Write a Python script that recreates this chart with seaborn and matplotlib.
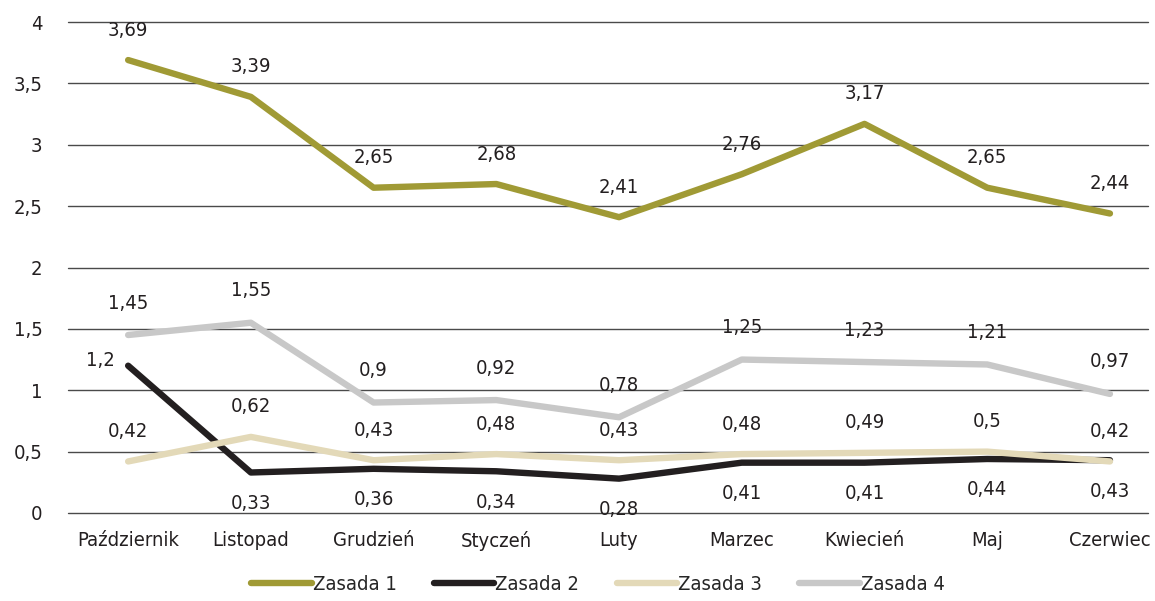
import matplotlib
matplotlib.use("Agg")
import matplotlib.pyplot as plt
import seaborn as sns
import pandas as pd
from matplotlib.ticker import FuncFormatter, MultipleLocator

months = ["Październik", "Listopad", "Grudzień", "Styczeń", "Luty", "Marzec", "Kwiecień", "Maj", "Czerwiec"]
series_names = ["Zasada 1", "Zasada 2", "Zasada 3", "Zasada 4"]
zasada1 = [3.69, 3.39, 2.65, 2.68, 2.41, 2.76, 3.17, 2.65, 2.44]
zasada2 = [1.2, 0.33, 0.36, 0.34, 0.28, 0.41, 0.41, 0.44, 0.43]
zasada3 = [0.42, 0.62, 0.43, 0.48, 0.43, 0.48, 0.49, 0.5, 0.42]
zasada4 = [1.45, 1.55, 0.9, 0.92, 0.78, 1.25, 1.23, 1.21, 0.97]
colors = ["#A09A35", "#231F20", "#E3D9B8", "#C8C8C8"]

sns.set_style("white")
plt.rcParams['font.family'] = ['DejaVu Sans']
plt.rcParams['font.stretch'] = 'condensed'

all_vals = [zasada1, zasada2, zasada3, zasada4]
rows = []
for name, vals in zip(series_names, all_vals):
    for i, (m, v) in enumerate(zip(months, vals)):
        rows.append({"idx": i, "month": m, "value": v, "series": name})
df = pd.DataFrame(rows)

fig = plt.figure(figsize=(11.55, 6.01), dpi=100)
ax = fig.add_axes([68/1155, 1-513/601, (1148-68)/1155, (513-22)/601])

sns.lineplot(data=df, x="idx", y="value", hue="series", hue_order=series_names,
             palette=colors, linewidth=4.6, ax=ax, legend=True,
             solid_capstyle="round", solid_joinstyle="round")
for ln, z in zip(ax.lines[:4], [4, 3, 5, 2]):
    ln.set_zorder(z)

fs = 14.5
ax.set_xlim(-0.49, 8.31)
ax.set_ylim(0, 4)
ax.yaxis.set_major_locator(MultipleLocator(0.5))
ax.yaxis.set_major_formatter(FuncFormatter(lambda v, p: ("%g" % v).replace(".", ",")))
ax.set_xticks(range(len(months)))
ax.set_xticklabels(months)
ax.tick_params(axis="both", length=0, labelsize=fs, colors="#231F20")
ax.tick_params(axis="y", pad=18.5)
ax.tick_params(axis="x", pad=13)
ax.grid(axis="y", color="#4a4a4a", linewidth=1.0)
ax.grid(axis="x", visible=False)
for gl in ax.get_ygridlines():
    gl.set_clip_on(False)
ax.set_axisbelow(True)
for s in ax.spines.values():
    s.set_visible(False)
ax.set_xlabel("")
ax.set_ylabel("")

def fmt(v):
    return ("%g" % v).replace(".", ",")

for i, v in enumerate(zasada1):
    ax.annotate(fmt(v), (i, v), xytext=(0, 30), textcoords="offset pixels", ha="center", va="center", fontsize=fs, color="#231F20")
for i, v in enumerate(zasada4):
    ax.annotate(fmt(v), (i, v), xytext=(0, 32), textcoords="offset pixels", ha="center", va="center", fontsize=fs, color="#231F20")
for i, v in enumerate(zasada3):
    ax.annotate(fmt(v), (i, v), xytext=(0, 30), textcoords="offset pixels", ha="center", va="center", fontsize=fs, color="#231F20")
for i, v in enumerate(zasada2):
    if i == 0:
        ax.annotate(fmt(v), (i, v), xytext=(-28, 5), textcoords="offset pixels", ha="center", va="center", fontsize=fs, color="#231F20")
    else:
        ax.annotate(fmt(v), (i, v), xytext=(0, -31), textcoords="offset pixels", ha="center", va="center", fontsize=fs, color="#231F20")

ax.legend_.remove()
handles = ax.lines[:4]
leg = fig.legend(handles, series_names, loc="center", bbox_to_anchor=(598/1155, 1-585/601),
                 ncol=4, frameon=False, fontsize=fs, handlelength=3.0, handletextpad=0.05,
                 columnspacing=1.85)

fig.savefig("out.png", dpi=100)
